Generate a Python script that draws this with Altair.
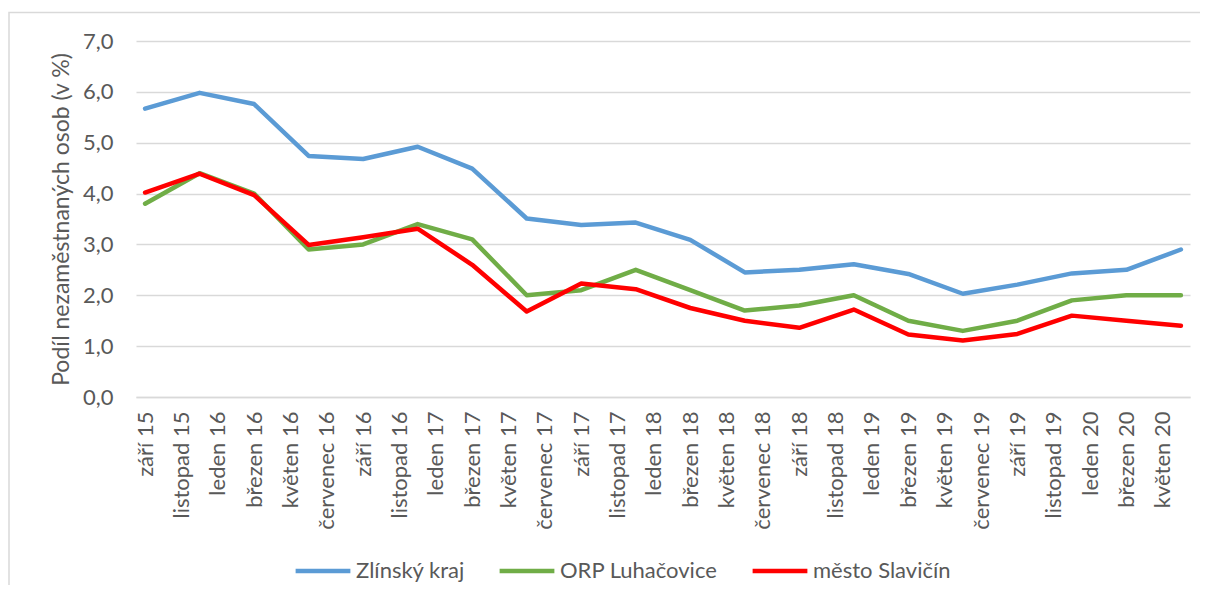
import json
import altair as alt
import pandas as pd

# x-axis tick labels (every second month, starting Sept 2015)
tick_labels = ["září 15", "listopad 15", "leden 16", "březen 16", "květen 16", "červenec 16",
               "září 16", "listopad 16", "leden 17", "březen 17", "květen 17", "červenec 17",
               "září 17", "listopad 17", "leden 18", "březen 18", "květen 18", "červenec 18",
               "září 18", "listopad 18", "leden 19", "březen 19", "květen 19", "červenec 19",
               "září 19", "listopad 19", "leden 20", "březen 20", "květen 20"]
tick_values = [0, 2, 4, 6, 8, 10, 12, 14, 16, 18, 20, 22, 24, 26, 28, 30, 32, 34, 36, 38,
               40, 42, 44, 46, 48, 50, 52, 54, 56]

# observations: months since Sept 2015 (quarterly)
month_index = [0, 3, 6, 9, 12, 15, 18, 21, 24, 27, 30, 33, 36, 39, 42, 45, 48, 51, 54, 57]

series_names = ["Zlínský kraj", "ORP Luhačovice", "město Slavičín"]
series_colors = ["#5B9BD5", "#70AD47", "#FF0000"]

zlinsky = [5.67, 5.98, 5.76, 4.74, 4.68, 4.92, 4.49, 3.51, 3.38, 3.43, 3.09, 2.45, 2.50,
           2.61, 2.42, 2.03, 2.21, 2.43, 2.50, 2.90]
orp = [3.80, 4.40, 4.00, 2.90, 3.00, 3.40, 3.10, 2.00, 2.10, 2.50, 2.10, 1.70, 1.80,
       2.00, 1.50, 1.30, 1.50, 1.90, 2.00, 2.00]
slavicin = [4.02, 4.39, 3.97, 2.99, 3.14, 3.31, 2.60, 1.68, 2.23, 2.12, 1.75, 1.50, 1.36,
            1.72, 1.23, 1.11, 1.24, 1.60, 1.50, 1.40]

rows = []
for name, vals in zip(series_names, [zlinsky, orp, slavicin]):
    for m, v in zip(month_index, vals):
        rows.append({"m": m, "v": v, "s": name})
df = pd.DataFrame(rows)

FONT = "Lato"
TXT = "#595959"
GRID = "#D9D9D9"
FS = 22

label_expr = json.dumps(tick_labels, ensure_ascii=False) + "[round(datum.value / 2)]"

x = alt.X("m:Q",
          scale=alt.Scale(domain=[-0.5, 57.5], nice=False, zero=False),
          axis=alt.Axis(values=tick_values, labelExpr=label_expr, labelAngle=270,
                        labelAlign="right", labelBaseline="middle",
                        ticks=False, grid=False, domain=True, domainColor=GRID,
                        domainWidth=1.3, labelPadding=14, labelFontSize=FS,
                        labelColor=TXT, labelFont=FONT, title=None, labelOverlap=False))
y = alt.Y("v:Q",
          scale=alt.Scale(domain=[0, 7], nice=False),
          axis=alt.Axis(values=[0, 1, 2, 3, 4, 5, 6, 7],
                        labelExpr="replace(format(datum.value, '.1f'), '.', ',')",
                        ticks=False, domain=False, grid=True, gridColor=GRID, gridWidth=1.3,
                        labelPadding=23, labelFontSize=FS, labelColor=TXT, labelFont=FONT,
                        title="Podíl nezaměstnaných osob (v %)", titleFontSize=23,
                        titleFont=FONT, titleColor=TXT, titleFontWeight="normal",
                        titlePadding=9))
color = alt.Color("s:N",
                  scale=alt.Scale(domain=series_names, range=series_colors),
                  legend=alt.Legend(title=None, orient="none", direction="horizontal",
                                    legendX=157, legendY=500, symbolType="stroke",
                                    symbolSize=3000, symbolStrokeWidth=4.5,
                                    labelFontSize=FS, labelColor=TXT, labelFont=FONT,
                                    labelOffset=3, columnPadding=25, padding=0))

# light chart-area frame (decoration only)
frame = alt.Chart(pd.DataFrame({"f": [0]})).mark_rect(
    fill=None, stroke=GRID, strokeWidth=1.5
).encode(x=alt.value(-127), x2=alt.value(1085), y=alt.value(-28.5), y2=alt.value(575))

layers = [frame]
for name in series_names:
    layers.append(
        alt.Chart(df).transform_filter(alt.datum.s == name)
        .mark_line(strokeWidth=4.5, strokeCap="round", strokeJoin="round")
        .encode(x=x, y=y, color=color)
    )

chart = alt.layer(*layers).properties(
    width=1054, height=356,
    autosize=alt.AutoSizeParams(type="none"),
    padding={"left": 128, "top": 33, "right": 10, "bottom": 188},
).configure(background="white").configure_view(stroke=None)

chart.save("out.html", embed_options={"renderer": "svg", "actions": False})
